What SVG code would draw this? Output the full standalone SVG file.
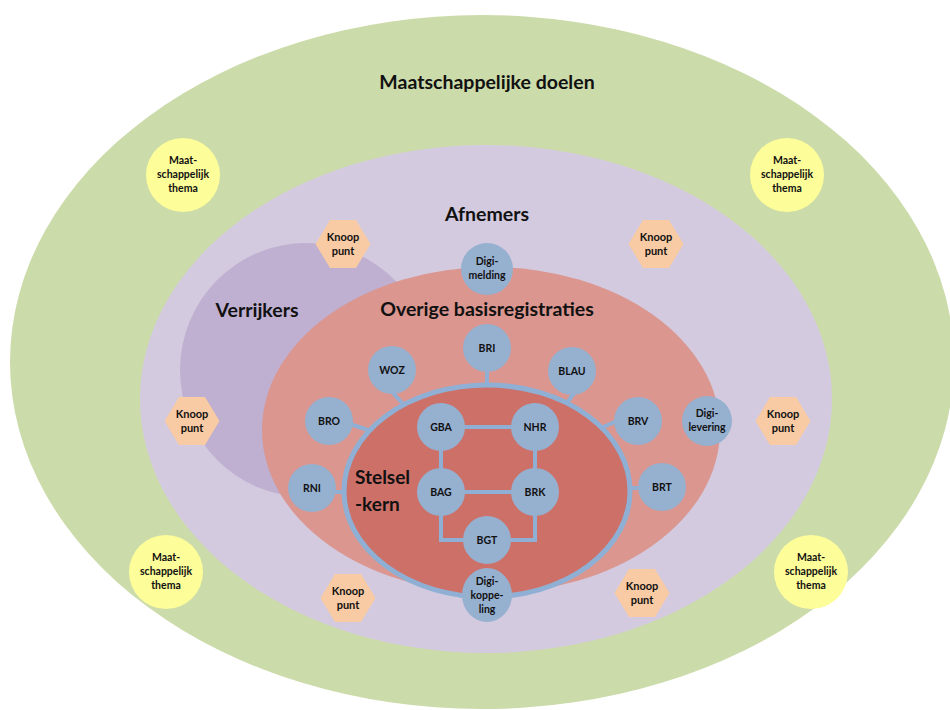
<svg xmlns="http://www.w3.org/2000/svg" width="950" height="710" viewBox="0 0 950 710">
<style>
text{font-family:Lato,"Open Sans","Liberation Sans",sans-serif;font-weight:bold;fill:#111;text-anchor:middle}
.big{font-size:19.5px}
.kern{font-size:19px;text-anchor:start}
.n{font-size:10.5px}
.s{font-size:10.5px}
.h{font-size:11px}
.node{fill:#96b0d0}
.thema{fill:#fdfd99}
.knoop{fill:#f9cba4}
.link{stroke:#8fb0d4;stroke-width:4;fill:none}
</style>
<defs>
<polygon id="hex" points="-27.5,0 -13,-24 13,-24 27.5,0 13,24 -13,24"/>
</defs>
<rect width="950" height="710" fill="#fff"/>
<g id="maatschappelijke-doelen">
<ellipse cx="482" cy="362" rx="472" ry="347" fill="#ccdbaa"/>
<text class="big" x="487" y="89">Maatschappelijke doelen</text>
</g>
<g id="afnemers">
<ellipse cx="486" cy="399" rx="346" ry="254" fill="#d3cadf"/>
<text class="big" x="487" y="221">Afnemers</text>
</g>
<g id="verrijkers">
<ellipse cx="306" cy="370" rx="126" ry="127" fill="#bfb0d1"/>
<text class="big" x="257" y="317">Verrijkers</text>
</g>
<g id="overige">
<ellipse cx="491" cy="430" rx="229" ry="163" fill="#da968f"/>
<text class="big" x="487" y="316">Overige basisregistraties</text>
</g>
<g id="stelselkern">
<ellipse cx="487" cy="491" rx="143" ry="106" fill="#cc7068" stroke="#8fb0d4" stroke-width="5"/>
<text class="kern" x="355" y="484">Stelsel</text>
<text class="kern" x="355" y="511">-kern</text>
</g>
<g id="connectors" class="link">
<line x1="487" y1="370" x2="487" y2="386"/>
<line x1="392" y1="392" x2="404" y2="405"/>
<line x1="575" y1="392" x2="566" y2="404"/>
<line x1="350" y1="424" x2="371" y2="431"/>
<line x1="617" y1="421" x2="601" y2="428"/>
<line x1="334" y1="492" x2="346" y2="492"/>
<line x1="638" y1="488" x2="630" y2="488"/>
<line x1="441" y1="427" x2="535" y2="427"/>
<line x1="441" y1="427" x2="441" y2="492"/>
<line x1="535" y1="427" x2="535" y2="492"/>
<line x1="441" y1="492" x2="535" y2="492"/>
<polyline points="441,492 441,540 535,540 535,492"/>
</g>
<g id="bri"><circle class="node" cx="487" cy="348" r="24"/><text class="n" x="487" y="352">BRI</text></g>
<g id="woz"><circle class="node" cx="392" cy="370" r="24"/><text class="n" x="392" y="374">WOZ</text></g>
<g id="blau"><circle class="node" cx="572" cy="371" r="24"/><text class="n" x="572" y="375">BLAU</text></g>
<g id="bro"><circle class="node" cx="329" cy="421" r="24"/><text class="n" x="329" y="425">BRO</text></g>
<g id="brv"><circle class="node" cx="638" cy="421" r="24"/><text class="n" x="638" y="425">BRV</text></g>
<g id="rni"><circle class="node" cx="312" cy="488" r="24"/><text class="n" x="312" y="492">RNI</text></g>
<g id="brt"><circle class="node" cx="662" cy="487" r="24"/><text class="n" x="662" y="491">BRT</text></g>
<g id="gba"><circle class="node" cx="441" cy="427" r="24"/><text class="n" x="441" y="431">GBA</text></g>
<g id="nhr"><circle class="node" cx="535" cy="427" r="24"/><text class="n" x="535" y="431">NHR</text></g>
<g id="bag"><circle class="node" cx="441" cy="492" r="24"/><text class="n" x="441" y="496">BAG</text></g>
<g id="brk"><circle class="node" cx="535" cy="492" r="24"/><text class="n" x="535" y="496">BRK</text></g>
<g id="bgt"><circle class="node" cx="487" cy="540" r="24"/><text class="n" x="487" y="544">BGT</text></g>
<g id="digikoppeling"><ellipse class="node" cx="487" cy="595" rx="25" ry="27"/><text class="n" x="487" y="585">Digi-</text><text class="n" x="487" y="599">koppe-</text><text class="n" x="487" y="613">ling</text></g>
<g id="digimelding"><circle class="node" cx="487" cy="269" r="26"/><text class="n" x="487" y="265">Digi-</text><text class="n" x="487" y="279">melding</text></g>
<g id="digilevering"><circle class="node" cx="707" cy="421" r="25"/><text class="n" x="707" y="417">Digi-</text><text class="n" x="707" y="431">levering</text></g>
<g id="knoop1"><use href="#hex" class="knoop" x="343" y="244"/><text class="h" x="343" y="241">Knoop</text><text class="h" x="343" y="255">punt</text></g>
<g id="knoop2"><use href="#hex" class="knoop" x="656" y="244"/><text class="h" x="656" y="241">Knoop</text><text class="h" x="656" y="255">punt</text></g>
<g id="knoop3"><use href="#hex" class="knoop" x="192" y="421"/><text class="h" x="192" y="418">Knoop</text><text class="h" x="192" y="432">punt</text></g>
<g id="knoop4"><use href="#hex" class="knoop" x="783" y="421"/><text class="h" x="783" y="418">Knoop</text><text class="h" x="783" y="432">punt</text></g>
<g id="knoop5"><use href="#hex" class="knoop" x="348" y="598"/><text class="h" x="348" y="595">Knoop</text><text class="h" x="348" y="609">punt</text></g>
<g id="knoop6"><use href="#hex" class="knoop" x="642" y="593"/><text class="h" x="642" y="590">Knoop</text><text class="h" x="642" y="604">punt</text></g>
<g id="thema1"><circle class="thema" cx="183" cy="175" r="37"/><text class="s" x="183" y="164">Maat-</text><text class="s" x="183" y="178">schappelijk</text><text class="s" x="183" y="192">thema</text></g>
<g id="thema2"><circle class="thema" cx="787" cy="175" r="37"/><text class="s" x="787" y="164">Maat-</text><text class="s" x="787" y="178">schappelijk</text><text class="s" x="787" y="192">thema</text></g>
<g id="thema3"><circle class="thema" cx="166" cy="572" r="37"/><text class="s" x="166" y="561">Maat-</text><text class="s" x="166" y="575">schappelijk</text><text class="s" x="166" y="589">thema</text></g>
<g id="thema4"><circle class="thema" cx="811" cy="572" r="37"/><text class="s" x="811" y="561">Maat-</text><text class="s" x="811" y="575">schappelijk</text><text class="s" x="811" y="589">thema</text></g>
</svg>
